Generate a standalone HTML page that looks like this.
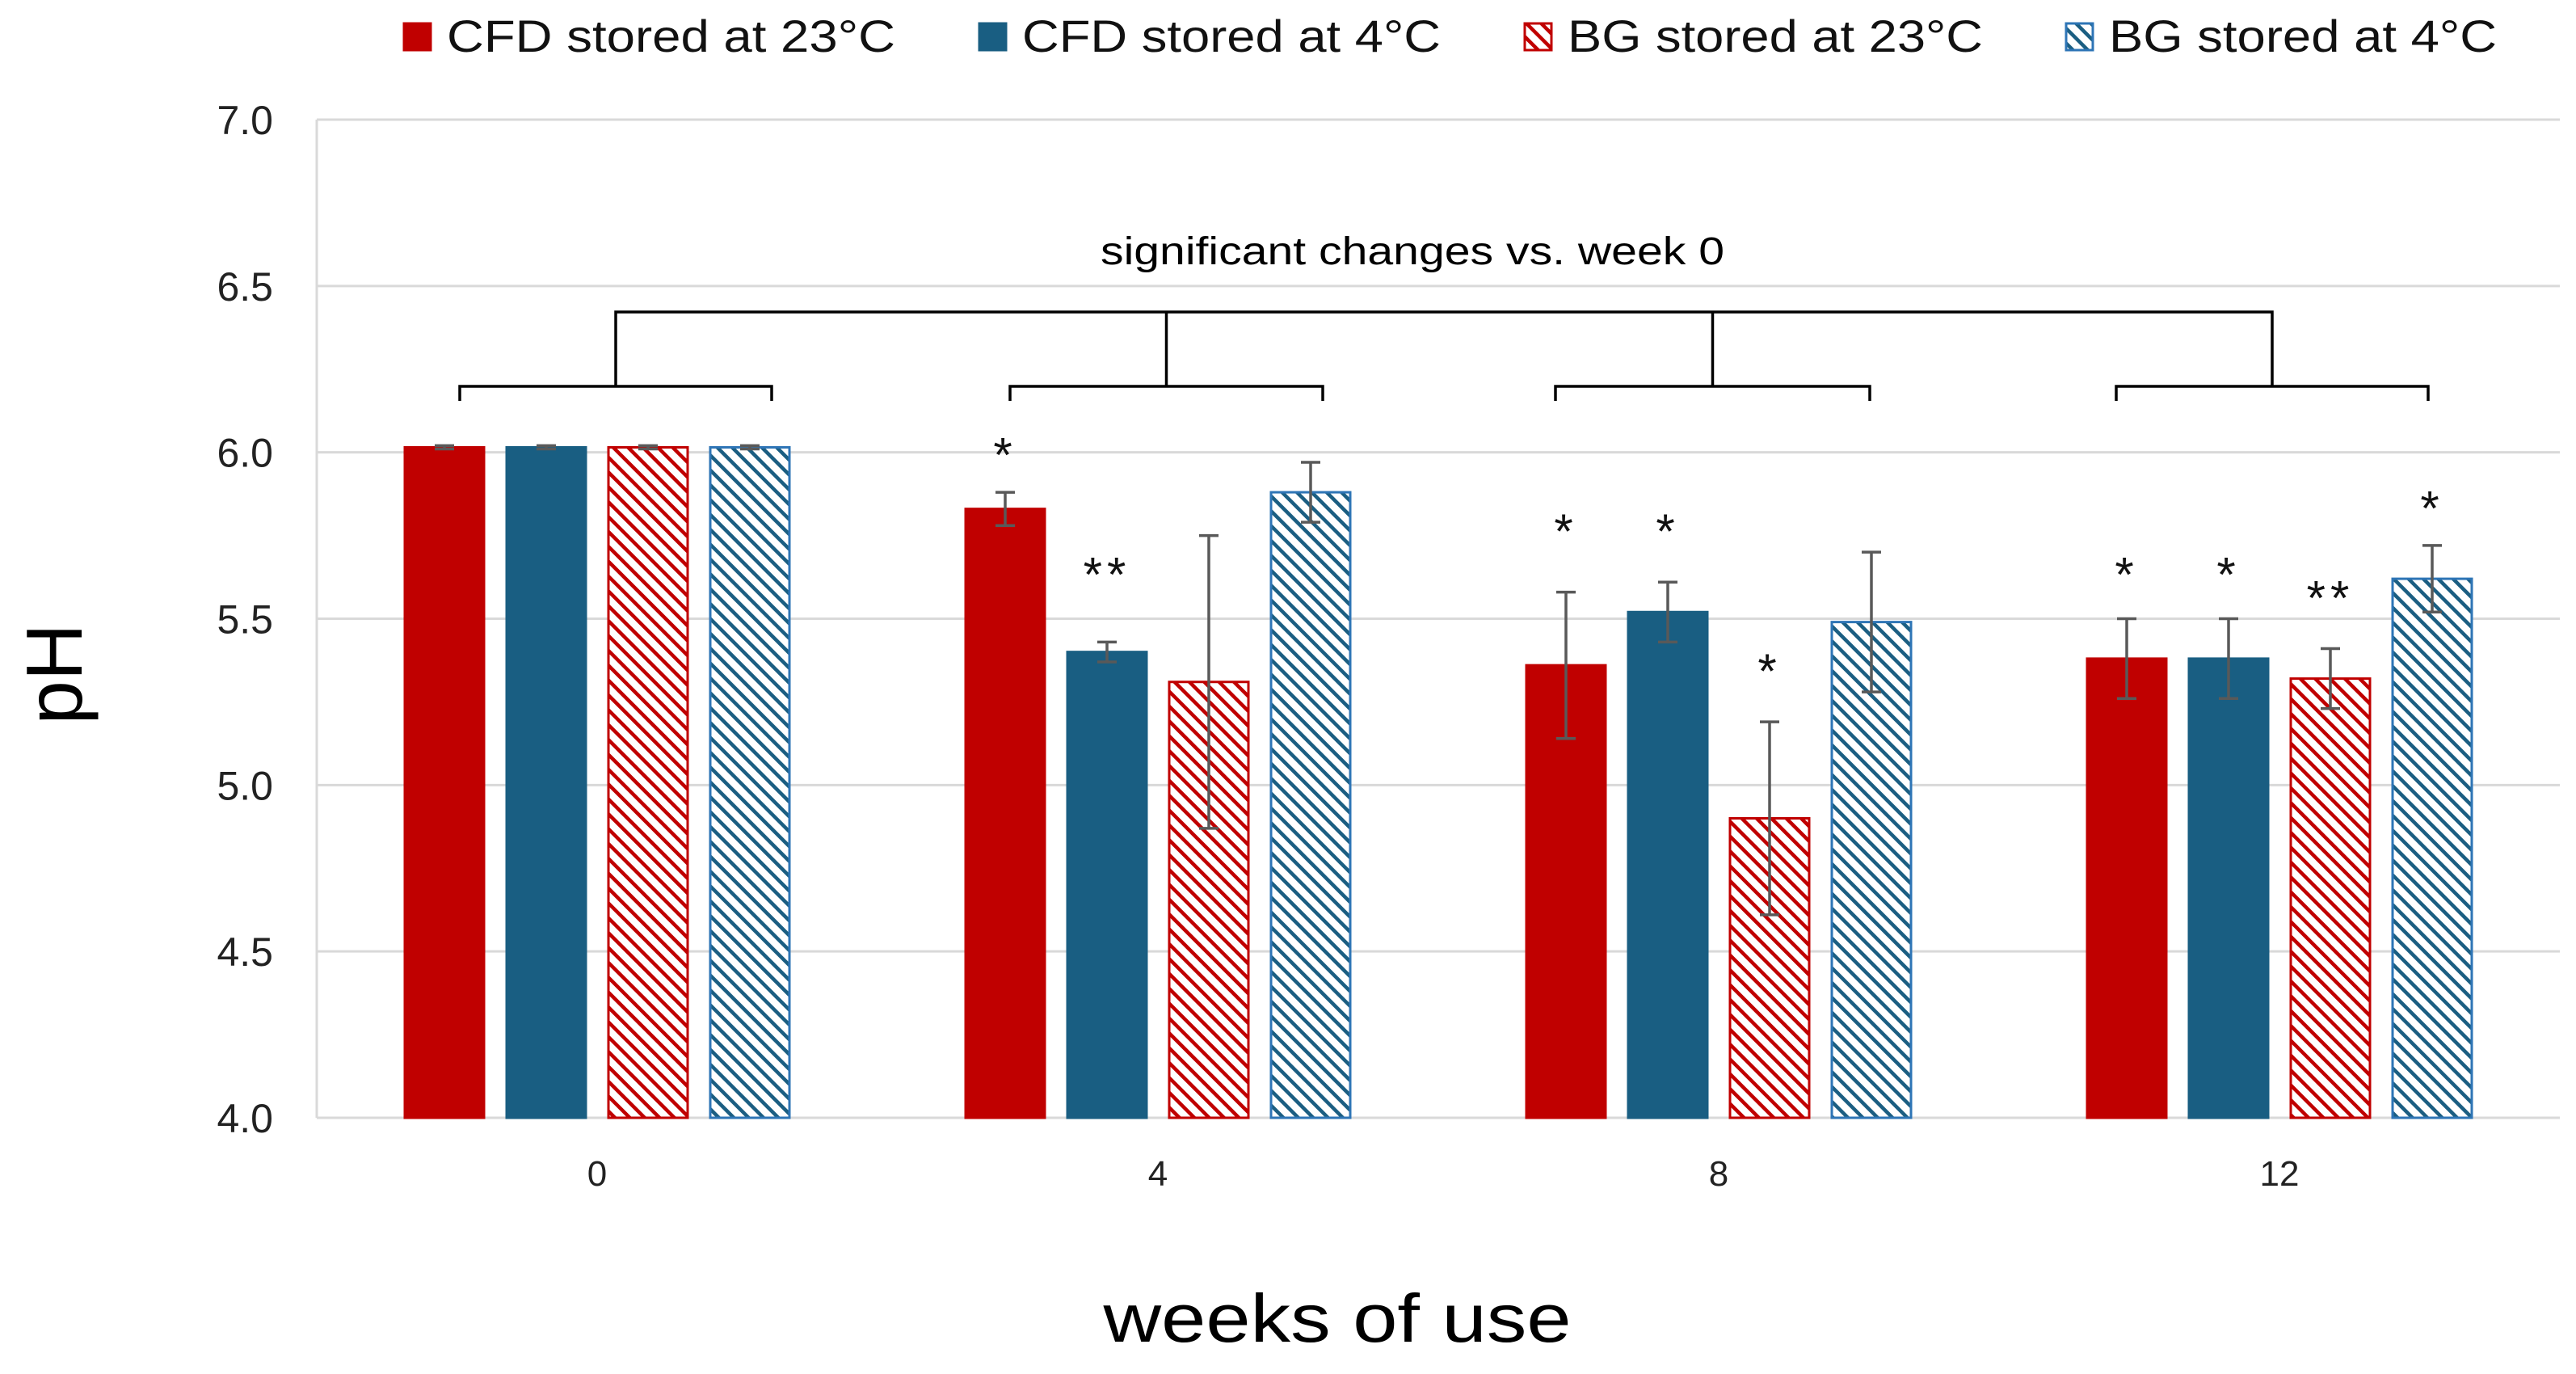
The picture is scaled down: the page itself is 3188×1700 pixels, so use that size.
<!DOCTYPE html>
<html><head><meta charset="utf-8"><style>
html,body{margin:0;padding:0;background:#fff}
svg{display:block;font-family:"Liberation Sans",Arial,sans-serif}
</style></head><body>
<svg id="chart" width="3188" height="1700" viewBox="0 0 3188 1700">
<defs>
<pattern id="hatchRed" patternUnits="userSpaceOnUse" width="13" height="13" patternTransform="rotate(-45)">
<rect width="13" height="13" fill="#fff"/><rect x="0" y="0" width="4.5" height="13" fill="#C00000"/></pattern>
<pattern id="hatchBlue" patternUnits="userSpaceOnUse" width="13" height="13" patternTransform="rotate(-45)">
<rect width="13" height="13" fill="#fff"/><rect x="0" y="0" width="4.5" height="13" fill="#1B5E82"/></pattern>
</defs>
<g id="grid"></g>
<g id="bars"></g>
<g id="annot"></g>
<g id="axes"></g>
<text x="75" y="834" font-size="98" text-anchor="middle" dominant-baseline="middle" transform="rotate(-90 75 834)">pH</text>
<text x="1655" y="1660" font-size="84" text-anchor="middle" textLength="579" lengthAdjust="spacingAndGlyphs">weeks of use</text>
<text x="1748" y="327" font-size="48" text-anchor="middle" textLength="772" lengthAdjust="spacingAndGlyphs">significant changes vs. week 0</text>
<g id="legend"></g>
</svg>
<script>
const categories = ["0","4","8","12"];
const seriesNames = ["CFD stored at 23°C","CFD stored at 4°C","BG stored at 23°C","BG stored at 4°C"];
const cfd23 = [6.015, 5.83, 5.36, 5.38];
const cfd4 = [6.015, 5.40, 5.52, 5.38];
const bg23 = [6.015, 5.31, 4.90, 5.32];
const bg4 = [6.015, 5.88, 5.49, 5.62];
const cfd23Err = [0.005, 0.05, 0.22, 0.12];
const cfd4Err = [0.005, 0.03, 0.09, 0.12];
const bg23Err = [0.005, 0.44, 0.29, 0.09];
const bg4Err = [0.005, 0.09, 0.21, 0.10];
const cfd23Stars = ["", "*", "*", "*"];
const cfd4Stars = ["", "**", "*", "*"];
const bg23Stars = ["", "", "*", "**"];
const bg4Stars = ["", "", "", "*"];
const cfd23StarAt = [0, 6.02, 5.79, 5.66];
const cfd4StarAt = [0, 5.66, 5.79, 5.66];
const bg23StarAt = [0, 0, 5.37, 5.59];
const bg4StarAt = [0, 0, 0, 5.86];
const yTicks = ["4.0","4.5","5.0","5.5","6.0","6.5","7.0"];

const NS="http://www.w3.org/2000/svg";
const plotL=392,plotR=3168,yMin=4,yMax=7,plotTop=148,plotBot=1383;
const y=v=>plotBot-(v-yMin)/(yMax-yMin)*(plotBot-plotTop);
const cw=(plotR-plotL)/categories.length;
const cx=i=>plotL+cw*(i+0.5);
const barW=101,step=126;
const bx=(i,s)=>cx(i)+(s-1.5)*step-barW/2;
function mk(tag,a,p){const e=document.createElementNS(NS,tag);for(const k in a)e.setAttribute(k,a[k]);p.appendChild(e);return e;}
const grid=document.getElementById('grid'),bars=document.getElementById('bars'),annot=document.getElementById('annot'),axes=document.getElementById('axes'),legend=document.getElementById('legend');

yTicks.forEach(t=>{const v=parseFloat(t);
 const g=mk('line',{x1:plotL,x2:plotR,y1:y(v),y2:y(v),stroke:'#d9d9d9','stroke-width':3},grid);
 
 
 const tx=mk('text',{x:338,y:y(v)+18,'font-size':50,'text-anchor':'end',fill:'#222'},axes);tx.textContent=t;
 
 
});
const la=mk('line',{x1:plotL,x2:plotL,y1:plotTop,y2:plotBot,stroke:'#d9d9d9','stroke-width':3},axes);


categories.forEach((c,i)=>{const tx=mk('text',{x:cx(i),y:1467,'font-size':44,'text-anchor':'middle',fill:'#222'},axes);tx.textContent=c;
 
 });

const series=[
 {v:cfd23,e:cfd23Err,st:cfd23Stars,sa:cfd23StarAt,fill:'#C00000',stroke:'#C00000'},
 {v:cfd4,e:cfd4Err,st:cfd4Stars,sa:cfd4StarAt,fill:'#195E82',stroke:'#195E82'},
 {v:bg23,e:bg23Err,st:bg23Stars,sa:bg23StarAt,fill:'url(#hatchRed)',stroke:'#C00000'},
 {v:bg4,e:bg4Err,st:bg4Stars,sa:bg4StarAt,fill:'url(#hatchBlue)',stroke:'#2E75B6'}];
series.forEach((s,si)=>{
 s.v.forEach((v,i)=>{
  const x=bx(i,si);
  const r=mk('rect',{x:x+1.5,y:y(v),width:barW-3,height:plotBot-y(v),fill:s.fill,stroke:s.stroke,'stroke-width':3},bars);
  
  
  const m=x+barW/2,hi=y(v+s.e[i]),lo=y(v-s.e[i]);
  const eb=mk('path',{d:`M${m},${hi}V${lo}M${m-12},${hi}H${m+12}M${m-12},${lo}H${m+12}`,stroke:'#595959','stroke-width':3.5,fill:'none'},bars);
  
  
  if(s.st[i]){const t=mk('text',{x:m,y:y(s.sa[i])+32,'font-size':60,'text-anchor':'middle',fill:'#111','letter-spacing':6},annot);t.textContent=s.st[i];
   
   }
 });
});
const bTop=386,bGrp=478,bTick=496;
const grpSpan=[[569,955],[1250,1637],[1925,2314],[2619,3005]];
const pb=mk('path',{d:'',stroke:'#000','stroke-width':3.5,fill:'none'},annot);


let d=`M${(grpSpan[0][0]+grpSpan[0][1])/2},${bGrp}V${bTop}H${(grpSpan[3][0]+grpSpan[3][1])/2}V${bGrp}`;
grpSpan.forEach(g=>{const m=(g[0]+g[1])/2;d+=`M${g[0]},${bTick}V${bGrp}H${g[1]}V${bTick}M${m},${bGrp}V${bTop}`;});
pb.setAttribute('d',d);
const lx=[498,1210,1885,2555];
const lw=[555,518,514,480];
seriesNames.forEach((n,i)=>{
 const s=series[i];
 const r=mk('rect',{x:lx[i]+2,y:29,width:33,height:33,fill:s.fill,stroke:s.stroke,'stroke-width':3},legend);
 
 
 const t=mk('text',{x:lx[i]+55,y:64,'font-size':56,fill:'#111',textLength:lw[i],lengthAdjust:'spacingAndGlyphs'},legend);t.textContent=n;
 
 
});
</script>
</body></html>
